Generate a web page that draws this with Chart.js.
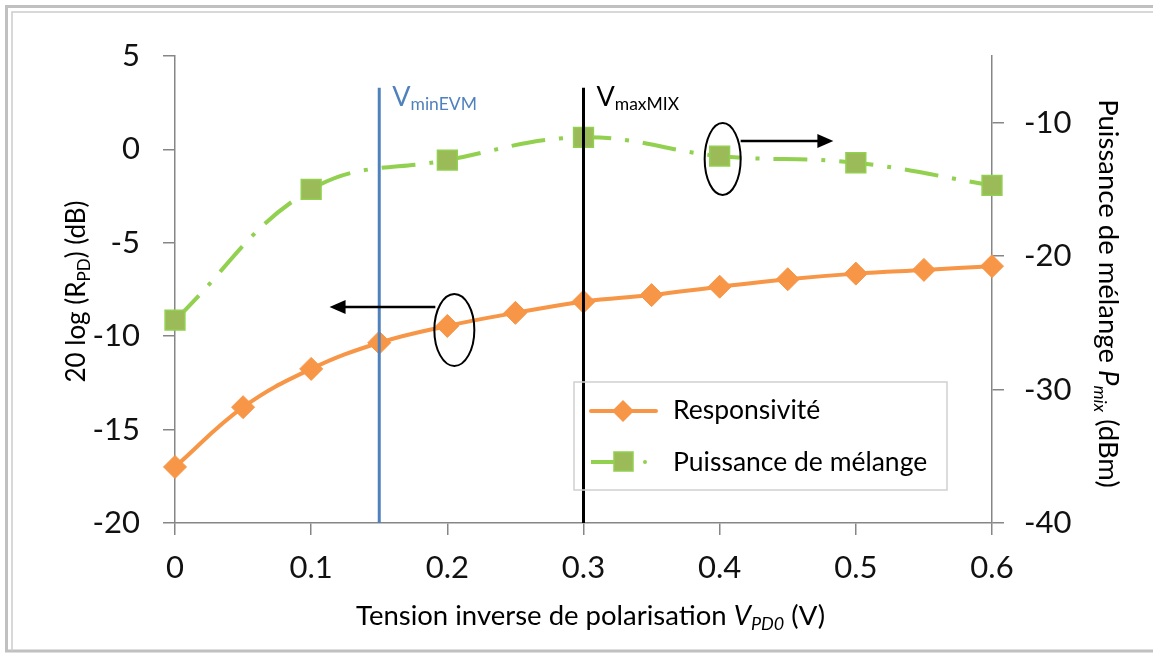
<!DOCTYPE html>
<html>
<head>
<meta charset="utf-8">
<script src="https://cdn.jsdelivr.net/npm/chart.js@4.4.0/dist/chart.umd.min.js"></script>
<style>
  html, body { margin: 0; padding: 0; background: #fff; }
  #wrap { width: 1153px; height: 653px; position: relative; }
</style>
</head>
<body>
<div id="wrap"><canvas id="c"></canvas></div>
<script>
// data
const tensions = [0, 0.05, 0.1, 0.15, 0.2, 0.25, 0.3, 0.35, 0.4, 0.45, 0.5, 0.55, 0.6]
const responsivite = [-17.0, -13.8, -11.75, -10.35, -9.45, -8.75, -8.15, -7.8, -7.35, -6.95, -6.65, -6.45, -6.25]
const tensionsMix = [0, 0.1, 0.2, 0.3, 0.4, 0.5, 0.6]
const puissanceMix = [-24.8, -15.0, -12.8, -11.1, -12.5, -13.0, -14.7]
const vMinEVM = 0.15
const vMaxMIX = 0.3
const vLineTop = 3.3
const xTicks = [0, 0.1, 0.2, 0.3, 0.4, 0.5, 0.6]
const leftTicks = [-20, -15, -10, -5, 0, 5]
const rightTicks = [-40, -30, -20, -10]

const FONT = 'Lato'
const axisColor = '#868686'
const orange = '#f79646'
const green = '#92d050'
const greenFill = '#9bbb59'
const blue = '#4f81bd'

function fontOf(r) {
  return (r.i ? 'italic ' : '') + r.s + 'px ' + FONT
}

// text with subscripts / italics, drawn at baseline (x,y), rotated
function richText(ctx, runs, x, y, angle, align) {
  ctx.save()
  ctx.translate(x, y)
  ctx.rotate(angle)
  ctx.textAlign = 'left'
  ctx.textBaseline = 'alphabetic'
  let w = 0
  runs.forEach(r => { ctx.font = fontOf(r); r.w = ctx.measureText(r.t).width; w += r.w })
  let cx = align === 'left' ? 0 : -w / 2
  runs.forEach(r => {
    ctx.font = fontOf(r)
    ctx.fillStyle = r.c || '#000'
    ctx.fillText(r.t, cx, r.dy || 0)
    cx += r.w
  })
  ctx.restore()
}

function arrow(ctx, x1, y, x2) {
  const dir = x2 > x1 ? 1 : -1
  ctx.save()
  ctx.strokeStyle = '#000'
  ctx.fillStyle = '#000'
  ctx.lineWidth = 2.5
  ctx.beginPath()
  ctx.moveTo(x1, y)
  ctx.lineTo(x2 - dir * 14, y)
  ctx.stroke()
  ctx.beginPath()
  ctx.moveTo(x2, y)
  ctx.lineTo(x2 - dir * 16, y - 7)
  ctx.lineTo(x2 - dir * 16, y + 7)
  ctx.closePath()
  ctx.fill()
  ctx.restore()
}

function ellipse(ctx, cx, cy, rx, ry) {
  ctx.save()
  ctx.strokeStyle = '#000'
  ctx.lineWidth = 2
  ctx.beginPath()
  ctx.ellipse(cx, cy, rx, ry, 0, 0, Math.PI * 2)
  ctx.stroke()
  ctx.restore()
}

const decor = {
  id: 'decor',
  beforeDraw(chart) {
    const ctx = chart.ctx
    ctx.save()
    ctx.fillStyle = '#fff'
    ctx.fillRect(0, 0, chart.width, chart.height)
    ctx.strokeStyle = '#c0c0c0'
    ctx.lineWidth = 3
    ctx.beginPath()
    ctx.moveTo(1153, 6.5); ctx.lineTo(6.5, 6.5); ctx.lineTo(6.5, 651); ctx.lineTo(1153, 651)
    ctx.stroke()
    ctx.strokeStyle = '#cccccc'
    ctx.lineWidth = 1.5
    ctx.beginPath()
    ctx.moveTo(1153, 12); ctx.lineTo(12, 12); ctx.lineTo(12, 651)
    ctx.stroke()
    ctx.restore()
  },
  afterDatasetsDraw(chart) {
    const ctx = chart.ctx
    const a = chart.chartArea
    const x = chart.scales.x, y = chart.scales.y, y1 = chart.scales.y1
    const midY = (a.top + a.bottom) / 2

    // axis titles
    richText(ctx, [{ t: '20 log (R', s: 26 }, { t: 'PD', s: 17, dy: 5 }, { t: ') (dB)', s: 26 }],
      85, midY + 2, -Math.PI / 2)
    richText(ctx, [{ t: 'Puissance de mélange ', s: 27.5 }, { t: 'P', s: 27.5, i: true },
      { t: 'mix', s: 18, i: true, dy: 5 }, { t: ' (dBm)', s: 27.5 }],
      1099, midY + 4, Math.PI / 2)
    richText(ctx, [{ t: 'Tension inverse de polarisation ', s: 27.5 }, { t: 'V', s: 27.5, i: true },
      { t: 'PD0', s: 18, i: true, dy: 5 }, { t: ' (V)', s: 27.5 }],
      (a.left + a.right) / 2 + 7, 625, 0)

    // labels of the vertical lines
    const top = y.getPixelForValue(vLineTop)
    richText(ctx, [{ t: 'V', s: 27, c: blue }, { t: 'minEVM', s: 17.5, c: blue, dy: 4 }],
      x.getPixelForValue(vMinEVM) + 13, top + 18, 0, 'left')
    richText(ctx, [{ t: 'V', s: 27 }, { t: 'maxMIX', s: 17.5, dy: 4 }],
      x.getPixelForValue(vMaxMIX) + 13, top + 18, 0, 'left')

    // ellipse + arrow for each curve
    const p1x = x.getPixelForValue(0.2), p1y = y.getPixelForValue(responsivite[4])
    ellipse(ctx, p1x + 7, p1y + 4, 20, 36)
    arrow(ctx, p1x - 12, p1y - 19, x.getPixelForValue(0.1135))
    const p2x = x.getPixelForValue(0.4), p2y = y1.getPixelForValue(puissanceMix[4])
    ellipse(ctx, p2x + 3, p2y + 3, 18, 36)
    arrow(ctx, p2x + 21, p2y - 15, x.getPixelForValue(0.4835))

    // legend box
    ctx.save()
    ctx.strokeStyle = '#d0d0d0'
    ctx.lineWidth = 1.5
    ctx.strokeRect(574, 382, 373, 108)
    ctx.lineCap = 'round'
    ctx.strokeStyle = orange
    ctx.lineWidth = 4
    ctx.beginPath(); ctx.moveTo(591, 411); ctx.lineTo(656, 411); ctx.stroke()
    ctx.fillStyle = orange
    ctx.beginPath()
    ctx.moveTo(623 - 11, 411); ctx.lineTo(623, 400); ctx.lineTo(623 + 11, 411); ctx.lineTo(623, 422)
    ctx.closePath(); ctx.fill()
    ctx.strokeStyle = green
    ctx.lineCap = 'butt'
    ctx.beginPath(); ctx.moveTo(591, 462); ctx.lineTo(616, 462); ctx.stroke()
    ctx.fillStyle = greenFill
    ctx.fillRect(614, 452, 19, 19)
    ctx.lineWidth = 1.5
    ctx.strokeRect(614, 452, 19, 19)
    ctx.fillStyle = green
    ctx.beginPath(); ctx.arc(645, 462, 2, 0, Math.PI * 2); ctx.fill()
    ctx.restore()
    richText(ctx, [{ t: 'Responsivité', s: 26.5 }], 673, 419, 0, 'left')
    richText(ctx, [{ t: 'Puissance de mélange', s: 26.5 }], 673, 471, 0, 'left')
  }
}

const tickFont = { family: FONT, size: 31 }
const gridOpts = { display: true, drawOnChartArea: false, drawTicks: true, tickLength: 12, color: axisColor, lineWidth: 1.5 }
const borderOpts = { display: true, color: axisColor, width: 1.5 }

new Chart(document.getElementById('c'), {
  type: 'line',
  data: {
    datasets: [
      {
        label: 'VminEVM',
        data: [{ x: vMinEVM, y: -20 }, { x: vMinEVM, y: vLineTop }],
        borderColor: blue, borderWidth: 3, pointRadius: 0, tension: 0,
        yAxisID: 'y', order: 0
      },
      {
        label: 'VmaxMIX',
        data: [{ x: vMaxMIX, y: -20 }, { x: vMaxMIX, y: vLineTop }],
        borderColor: '#000', borderWidth: 3, pointRadius: 0, tension: 0,
        yAxisID: 'y', order: 0
      },
      {
        label: 'Responsivité',
        data: tensions.map((t, i) => ({ x: t, y: responsivite[i] })),
        borderColor: orange, borderWidth: 4, tension: 0.4,
        pointStyle: 'rectRot', pointRadius: 11.5, pointBackgroundColor: orange, pointBorderColor: orange, pointBorderWidth: 1,
        yAxisID: 'y', order: 1, clip: false
      },
      {
        label: 'Puissance de mélange',
        data: tensionsMix.map((t, i) => ({ x: t, y: puissanceMix[i] })),
        borderColor: green, borderWidth: 4, borderDash: [34, 14, 4, 14], tension: 0.4,
        pointStyle: 'rect', pointRadius: 14, pointBackgroundColor: greenFill, pointBorderColor: green, pointBorderWidth: 1.5,
        yAxisID: 'y1', order: 2, clip: false
      }
    ]
  },
  options: {
    responsive: true,
    maintainAspectRatio: false,
    animation: false,
    layout: { padding: { top: 56, left: 0, right: 0, bottom: 0 } },
    plugins: { legend: { display: false }, tooltip: { enabled: false } },
    scales: {
      x: {
        type: 'linear', position: 'bottom', min: 0, max: 0.6,
        afterBuildTicks: s => { s.ticks = xTicks.map(v => ({ value: v })) },
        afterFit: s => { s.height = 130 },
        grid: gridOpts, border: borderOpts,
        ticks: { font: tickFont, color: '#111', padding: 14, maxRotation: 0, autoSkip: false,
          callback: v => v === 0 ? '0' : v.toFixed(1) }
      },
      y: {
        position: 'left', min: -20, max: 5,
        afterBuildTicks: s => { s.ticks = leftTicks.map(v => ({ value: v })) },
        afterFit: s => { s.width = 175 },
        grid: gridOpts, border: borderOpts,
        ticks: { font: tickFont, color: '#111', padding: 23 }
      },
      y1: {
        position: 'right', min: -40, max: -5,
        afterBuildTicks: s => { s.ticks = rightTicks.map(v => ({ value: v })) },
        afterFit: s => { s.width = 161 },
        grid: gridOpts, border: borderOpts,
        ticks: { font: tickFont, color: '#111', padding: 20 }
      }
    }
  },
  plugins: [decor]
})
</script>
</body>
</html>
